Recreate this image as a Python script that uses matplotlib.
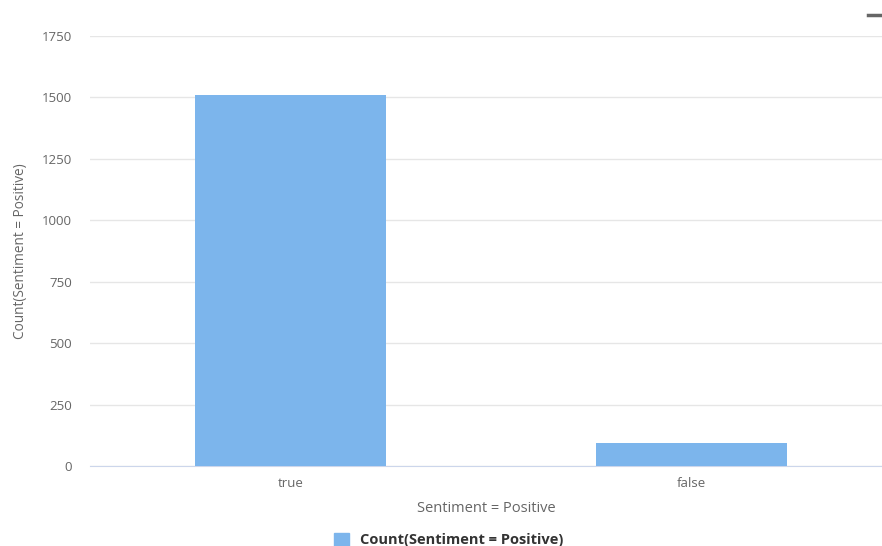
import matplotlib
matplotlib.use("Agg")
import matplotlib.pyplot as plt
from matplotlib.lines import Line2D
from matplotlib.patches import Patch

# Dados
categorias = ["true", "false"]
contagens = [1510, 94]
yticks = [0, 250, 500, 750, 1000, 1250, 1500, 1750]

plt.rcParams['font.family'] = ['Open Sans', 'DejaVu Sans']

fig = plt.figure(figsize=(8.82, 5.46), dpi=100)
ax = fig.add_axes([90/882, 80/546, 792/882, 430/546])

x = range(len(categorias))
ax.bar(x, contagens, width=0.476, color='#7cb5ec', zorder=3)

ax.set_xlim(-0.5, 1.476)
ax.set_ylim(0, 1750)
ax.set_yticks(yticks)
ax.set_yticklabels([str(v) for v in yticks])
ax.set_xticks(list(x))
ax.set_xticklabels(categorias)

ax.grid(axis='y', color='#e6e6e6', linewidth=1, zorder=0)
for s in ['top', 'right', 'left']:
    ax.spines[s].set_visible(False)
ax.spines['bottom'].set_color('#ccd6eb')
ax.tick_params(axis='both', length=0, colors='#666666', labelsize=9.5)
ax.tick_params(axis='y', pad=13)
ax.tick_params(axis='x', pad=8)

ax.set_xlabel('Sentiment = Positive', color='#666666', fontsize=10.5, labelpad=8)
ax.set_ylabel('Count(Sentiment = Positive)', color='#666666', fontsize=9.8)
ax.yaxis.set_label_coords(-0.078, 0.5)

# Legenda
leg = fig.legend(handles=[Patch(color='#7cb5ec', label='Count(Sentiment = Positive)')],
                 loc='center', bbox_to_anchor=(449/882, 1 - 540/546), frameon=False,
                 handlelength=1.0, handleheight=1.0, handletextpad=0.8,
                 prop={'weight': 'bold', 'size': 10.5})
for t in leg.get_texts():
    t.set_color('#333333')

# Ícone do menu no canto
fig.add_artist(Line2D([868/882, 882/882], [1 - 15/546, 1 - 15/546],
                      color='#666666', linewidth=2.5, transform=fig.transFigure))

fig.savefig('out.png', dpi=100)
